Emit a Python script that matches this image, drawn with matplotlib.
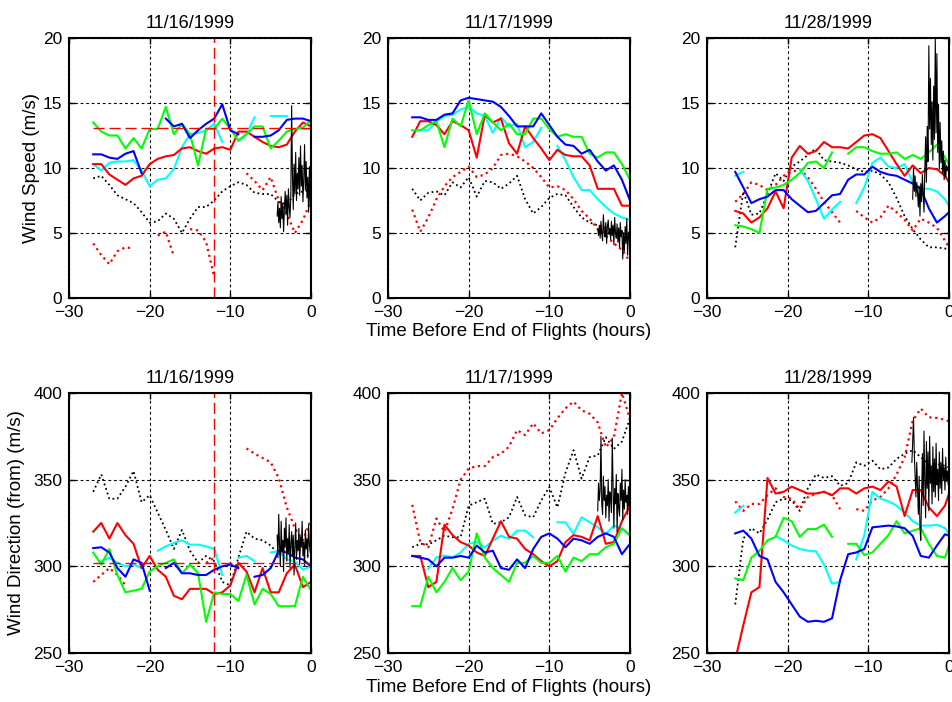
import numpy as np
import matplotlib
matplotlib.use('Agg')
import matplotlib.pyplot as plt

plt.rcParams['font.family'] = ['Liberation Sans', 'DejaVu Sans']
nan = np.nan

# Hours before end of flights
hrs_1116 = np.arange(-27, 1)
hrs_1117 = np.arange(-27, 1)
hrs_1128 = np.append(np.arange(-26.5, 0), 0)

# ---------- wind speed (m/s) ----------
spd16_red = [10.3, 10.3, 9.5, 9.1, 8.7, 9.2, 9.4, 10.3, 10.7, 10.9, 11.0, 11.5, 11.6, 11.3,
             11.1, 11.5, 11.6, 11.4, 12.8, 12.8, 12.4, 12.0, 11.7, 11.6, 11.8, 12.8, 13.5, 13.2]
spd16_blue = [11.05, 11.05, 10.8, 10.7, 11.1, 11.3, 9.6, nan, nan, 13.8, 13.2, 13.4, 12.3, 12.9,
              13.4, 13.8, 14.9, 12.9, 12.6, nan, 12.4, 12.4, 12.5, 12.9, 13.7, 13.8, 13.8, 13.6]
spd16_green = [13.5, 12.8, 12.5, 12.5, 11.5, 12.3, 11.5, 13.0, 13.0, 14.7, 12.6, 13.4, 12.6, 10.2,
               13.0, 13.0, 13.8, 13.0, 12.1, 12.6, 13.2, 13.2, 11.5, 12.1, 12.8, 13.0, 13.1, 13.7]
spd16_cyan = [10.3, 9.8, 10.4, 10.5, 10.5, 10.6, 9.8, 8.6, 9.1, 9.2, 9.9, 11.6, 12.6, 12.7,
              12.9, 13.4, 12.0, nan, 12.1, 12.6, 13.9, nan, 14.0, 14.0, 14.0, nan, 13.0, 13.0]
spd16_red_dot = [4.2, 3.3, 2.6, 3.6, 3.9, 3.8, nan, nan, 4.8, 5.1, 3.2, nan, 5.3, 5.2,
                 4.3, 1.6, nan, nan, nan, 9.6, 9.0, 8.3, 9.3, 7.5, 6.5, 5.0, 6.0, 7.5]
spd16_black_dot = [9.2, 9.4, 8.7, 7.9, 7.6, 7.3, 6.6, 5.8, 5.9, 6.5, 6.1, 5.0, 6.1, 7.0,
                   7.0, 7.5, 8.2, 8.6, 8.9, 8.7, 8.1, 8.0, 8.0, 7.4, 7.2, 8.0, 8.2, 8.3]
spd16_fast = [6.3, 7.4, 5.8, 6.9, 5.4, 7.8, 6.1, 7.3, 5.1, 6.8, 8.2, 6.4, 7.9, 5.6, 8.4,
              7.0, 6.2, 8.0, 14.8, 9.5, 6.8, 10.3, 8.0, 11.2, 7.5, 9.6, 8.4, 10.8, 7.9, 11.7,
              8.6, 10.2, 7.4, 9.1, 11.8, 8.3, 10.5, 7.7, 9.3, 6.6, 10.1, 7.2, 6.5]

spd17_red = [12.4, 13.6, 13.6, 13.3, 12.6, 13.6, 13.3, 12.9, 10.8, 14.1, 13.5, 13.8, 11.9, 11.1,
             13.2, 12.3, 11.5, 10.6, 11.4, 11.0, 10.9, 10.9, 10.2, 8.4, 8.4, 8.4, 7.1, 7.1]
spd17_blue = [13.9, 13.9, 13.7, 13.7, 14.1, 14.2, 15.2, 15.4, 15.3, 15.2, 15.1, 14.7, 14.0, 13.2,
              13.2, 13.2, 14.2, 13.3, 12.4, 11.8, 11.7, 11.1, 11.4, 10.5, 9.8, 10.2, 9.1, 7.5]
spd17_green = [12.9, 12.9, 13.3, 13.6, 11.6, 13.8, 13.2, 15.2, 12.6, 14.2, 13.5, 12.9, 13.4, 12.6,
               12.6, 13.8, 13.8, 13.0, 12.4, 12.6, 12.4, 12.4, 11.1, 10.8, 11.2, 11.2, 10.3, 9.1]
spd17_cyan = [nan, 12.9, 12.9, 13.6, 14.0, 14.1, 14.5, 14.7, 14.2, 14.0, 12.7, 13.9, 13.2, 13.4,
              11.6, 12.0, 13.1, nan, 11.7, 10.6, 9.3, 8.3, 8.3, 7.6, 7.0, 6.5, 6.2, 6.0]
spd17_red_dot = [6.8, 5.1, 6.2, 7.6, 8.6, 9.3, 9.7, 10.1, 9.3, 9.5, 10.0, 11.0, 11.1, 10.9,
                 10.5, 10.0, 9.3, 8.5, 8.6, 8.3, 7.6, 6.7, 6.1, 5.3, 4.8, 4.2, 3.7, 2.8]
spd17_black_dot = [8.4, 7.5, 8.1, 8.2, 7.9, 8.9, 8.5, 9.3, 7.8, 9.0, 8.9, 8.4, 8.8, 9.4,
                   7.6, 6.5, 7.0, 7.7, 8.0, 7.9, 7.0, 6.2, 5.8, 5.6, 5.4, 5.2, 5.0, 4.9]
spd17_fast = [5.3, 4.8, 5.6, 4.6, 5.9, 5.0, 4.4, 6.4, 5.1, 4.7, 5.8, 4.2, 5.5, 6.0, 4.9,
              5.3, 4.5, 5.9, 4.8, 5.6, 4.1, 6.2, 5.0, 4.6, 5.7, 4.3, 5.4, 3.9, 5.8, 4.7,
              5.2, 3.0, 4.9, 3.6, 5.5, 4.2, 6.1, 3.3, 4.8, 5.1, 2.8]

spd28_red = [6.7, 6.5, 5.8, 6.2, 6.9, 8.2, 6.9, 10.8, 11.7, 11.1, 11.3, 12.0, 11.6, 11.6,
             11.5, 12.0, 12.5, 12.6, 12.3, 11.3, 10.3, 9.4, 10.2, 9.6, 10.0, 9.9, 9.4, 8.9]
spd28_blue = [9.7, 8.5, 7.3, 7.6, 7.8, 8.3, 8.3, 7.6, 7.1, 6.6, 6.7, 7.3, 7.9, 8.0,
              9.1, 9.5, 9.5, 10.1, 9.7, 9.5, 9.4, 9.1, 8.8, 8.4, 6.9, 5.8, 6.3, 6.6]
spd28_green = [5.6, 5.5, 5.3, 5.0, 8.4, 8.5, 8.7, 9.1, 9.6, 10.4, 10.5, 10.0, 11.2, nan,
               11.1, 11.6, 11.6, 11.3, 11.1, 11.1, 11.2, 10.7, 11.0, 10.7, 11.2, 11.8, 10.8, 10.3]
spd28_cyan = [9.4, 9.7, nan, nan, nan, nan, nan, nan, 9.9, 9.0, 7.6, 6.1, 6.8, 7.4,
              nan, 7.3, 8.5, 10.4, 10.8, 10.1, 10.0, 10.3, 8.9, 8.4, 8.4, 8.2, 7.6, 7.1]
spd28_red_dot = [7.4, 8.0, 8.9, 8.7, 8.3, 8.7, 9.4, 9.7, 9.9, 9.3, 8.4, 7.4, 6.6, 5.8,
                 nan, 6.7, 6.2, 5.8, 6.2, 7.1, 6.6, 6.0, 5.2, 6.1, 5.8, 5.4, 4.4, 3.9]
spd28_black_dot = [3.9, 8.2, 6.4, 6.5, 8.0, 9.6, 9.0, 10.1, 10.5, 11.0, 11.5, 10.6, 10.5, 10.4,
                   10.2, 9.9, 9.7, 9.8, 9.5, 8.9, 7.7, 6.3, 5.3, 4.5, 3.9, 3.9, 3.8, 3.8]
spd28_fast = [7.6, 10.0, 8.2, 9.4, 7.8, 8.9, 8.1, 7.0, 8.6, 6.3, 8.8, 7.4, 9.5, 8.1, 6.6,
              9.8, 12.4, 8.9, 13.2, 10.5, 19.4, 13.0, 16.9, 11.8, 15.1, 10.6, 16.3, 12.2,
              20.0, 12.7, 18.8, 11.2, 14.9, 9.9, 13.5, 10.4, 12.1, 9.6, 11.3, 9.1, 10.6,
              9.3, 10.2, 9.8, 10.1, 9.6]

# ---------- wind direction (from) ----------
dir16_red = [320, 325, 316, 325, 318, 313, 299, 306, 298, 294, 283, 281, 287, 287,
             287, 284, 285, 289, 302, 297, 285, 299, 285, 285, 296, 301, 288, 291]
dir16_blue = [310.5, 311, 308, 299, 294, 304, 302, 286, nan, 299, 302, 296, 296, 295,
              295, 298, 300, 301, 299, nan, 294, 295, 299, 309, 308, 305, 304, 300]
dir16_green = [308, 301, 310, 295, 285, 286, 287, 297, 300, 302, 304, 296, 301, 296,
               268, 285, 284, 284, 280, 295, 278, 287, 284, 277, 277, 277, 294, 286]
dir16_cyan = [nan, 303, 305, 302, 300, 301, 299, nan, 309, 311.5, 313.5, 315, 312.5, 312.5,
              311.5, 310, 295, nan, 305, 306, 303, nan, 308, 308.7, 304, 303, 298, 300]
dir16_red_dot = [291, 295, 299, 295, 289, nan, nan, nan, nan, nan, nan, nan, nan, nan,
                 302, 305, nan, nan, nan, 368, 365, 362.5, 360, 351, 334, 322, 315, 327]
dir16_black_dot = [343, 353, 339, 339, 346, 355, 337, 341, 331, 321, 310, 321, 309, 302,
                   306, 303, 291, 289, 305, 320, 316, 315, 312, 307, 309, 312, 308, 305]
dir16_fast = [318, 305, 330, 312, 300, 326, 309, 315, 297, 322, 311, 328, 303, 316, 308,
              324, 299, 313, 320, 306, 318, 295, 312, 325, 304, 315, 309, 322, 301, 317,
              311, 326, 306, 314, 300, 321, 310, 316, 305, 324, 313, 308, 311]

dir17_red = [306, 306, 288, 291, 324, 318, 314, 312, 308, 306, 316, 326, 317, 316,
             310, 307, 303, 300, 303, 314, 318, 317, 315, 329, 313, 314, 326, 335]
dir17_blue = [306, 305, 304, 300, 305, 305, 306, 305, 312, 308, 309, 299, 298, 304,
              299, 310, 317, 319, 316, 311, 316, 315, 313, 317, 319, 317, 307, 313]
dir17_green = [277, 277, 294, 285, 291, 299, 292, 297, 319, 305, 299, 295, 291, 302,
               302, 306, 302, 302, 306, 297, 305, 303, 307, 307, 311, 313, 322, 318]
dir17_cyan = [nan, nan, 298.5, 305.2, 306.2, 305.2, 308, 313, 314, 311, 314.8, 317.7, 315.8, 320.6,
              320.6, 316.8, nan, nan, 325.4, 325.4, 318.7, 328.3, 325.4, 322.5, 318.7, 323.5, 321.6, 317.7]
dir17_red_dot = [335.5, 314, 311, 327.6, 320, 333, 350, 356.4, 357.8, 357.8, 363, 365, 369, 378.6,
                 375.7, 382.5, 376.7, 378.6, 385.4, 391.2, 395, 390, 388, 383, 368.7, 374.5, 400, 385]
dir17_black_dot = [311, 313, 312.6, 315, 317.7, 316.8, 316.8, 335, 337, 339, 324.5, 325.4, 328.3, 340,
                   329.4, 328.3, 338, 345.8, 334, 354, 367, 350.6, 363, 364, 374.5, 367.8, 372, 385.5]
dir17_fast = [332, 348, 338, 344, 375, 336, 330, 352, 338, 346, 328, 341, 335, 350, 326,
              343, 339, 331, 374, 347, 322, 345, 336, 353, 320, 342, 334, 329, 348, 338,
              356, 327, 344, 333, 350, 337, 341, 330, 346, 335, 338]

dir28_red = [246, 266, 285, 288, 351, 342, 343, 346, 344, 342, 342, 343, 341, 345,
             345, 342, 345, 346, 344, 349, 346, 329, 344, 344, 334, 329, 335, 342]
dir28_blue = [319, 320.6, 316, 306, 304, 291, 285, 278, 271, 268, 268.6, 268, 270, 292,
              307, 308, 310, 322.5, 323, 323.5, 323, 322, 317.5, 306, 305, 312, 318.5, 317.7]
dir28_green = [293, 292, 305, 309, 315, 317, 328, 326, 317, 321.5, 321.5, 324, 317, nan,
               313, 313, 306.5, 308, 313, 318, 326, 319, 320.5, 322, 313, 306, 305, 312]
dir28_cyan = [331, 335, nan, nan, nan, 317.5, 315, 312, 310, 309, 308.7, 301, 290, 291,
              nan, 304, 318, 343, 339, 337.5, 335, 331, 326, 323.5, 323.5, 324, 322, 318.6]
dir28_red_dot = [337.5, 332, 336, 336, 341, 345, 340, 339, 333, 340, 342, 343, 341, 333,
                 nan, 333, 332, 338, 340, 345, 353, 363, 384, 391, 386, 385.6, 384.5, 383.7]
dir28_black_dot = [278, 316, 322, 319, 327, 337, 339, 338, 332, 345, 353, 351, 352, 346.5,
                   348, 360, 358, 361, 356, 357, 362, 365, 367, 363, 359, 359, 358, 357]
dir28_fast = [360, 372, 386, 365, 352, 340, 360, 345, 330, 352, 322, 315, 340, 365, 335,
              378, 350, 328, 372, 345, 366, 332, 375, 348, 358, 336, 369, 343, 362, 340,
              371, 347, 356, 338, 366, 345, 360, 342, 368, 350, 357, 344, 363, 349, 355,
              347, 352]

# times of the high-rate (last hours) black trace
fast_t16 = np.linspace(-4.2, 0, len(spd16_fast))
fast_t17 = np.linspace(-4.0, 0, len(spd17_fast))
fast_t28 = np.linspace(-4.5, 0, len(spd28_fast))
fast_t16d = np.linspace(-4.2, 0, len(dir16_fast))
fast_t17d = np.linspace(-4.0, 0, len(dir17_fast))
fast_t28d = np.linspace(-4.6, 0, len(dir28_fast))

# reference markers for 11/16
ref_spd_1116 = 13.1
ref_dir_1116 = 302
mark_hr_1116 = -12

titles = ['11/16/1999', '11/17/1999', '11/28/1999']

RED, BLUE, GREEN, CYAN = '#ff0000', '#0000ff', '#00ff00', '#00ffff'


def draw(ax, t, red, blue, green, cyan, red_dot, black_dot, ft, fast):
    ax.plot(t, black_dot, color='k', ls=':', lw=1.3)
    ax.plot(t, red_dot, color=RED, ls=':', lw=1.6)
    ax.plot(t, cyan, color=CYAN, lw=1.5)
    ax.plot(t, red, color=RED, lw=1.5)
    ax.plot(t, green, color=GREEN, lw=1.5)
    ax.plot(t, blue, color=BLUE, lw=1.5)
    ax.plot(ft, fast, color='k', lw=0.8)


fig = plt.figure(figsize=(9.52, 7.02), dpi=100)
W, H = 952, 702
lefts = [69, 388, 707]
tops = [38, 393]
aw, ah = 242, 260

panels = [
    (hrs_1116, spd16_red, spd16_blue, spd16_green, spd16_cyan, spd16_red_dot, spd16_black_dot, fast_t16, spd16_fast),
    (hrs_1117, spd17_red, spd17_blue, spd17_green, spd17_cyan, spd17_red_dot, spd17_black_dot, fast_t17, spd17_fast),
    (hrs_1128, spd28_red, spd28_blue, spd28_green, spd28_cyan, spd28_red_dot, spd28_black_dot, fast_t28, spd28_fast),
    (hrs_1116, dir16_red, dir16_blue, dir16_green, dir16_cyan, dir16_red_dot, dir16_black_dot, fast_t16d, dir16_fast),
    (hrs_1117, dir17_red, dir17_blue, dir17_green, dir17_cyan, dir17_red_dot, dir17_black_dot, fast_t17d, dir17_fast),
    (hrs_1128, dir28_red, dir28_blue, dir28_green, dir28_cyan, dir28_red_dot, dir28_black_dot, fast_t28d, dir28_fast),
]

for k, p in enumerate(panels):
    row, col = divmod(k, 3)
    ax = fig.add_axes([lefts[col] / W, (H - tops[row] - ah) / H, aw / W, ah / H])
    draw(ax, *p)
    ax.set_xlim(-30, 0)
    ax.set_xticks([-30, -20, -10, 0])
    if row == 0:
        ax.set_ylim(0, 20)
        ax.set_yticks([0, 5, 10, 15, 20])
    else:
        ax.set_ylim(250, 400)
        ax.set_yticks([250, 300, 350, 400])
    if col == 0:
        ref = ref_spd_1116 if row == 0 else ref_dir_1116
        ax.hlines(ref, hrs_1116[0], hrs_1116[-1], color=RED, lw=1.0, linestyles=(0, (8, 3.5)))
        ax.axvline(mark_hr_1116, color=RED, lw=1.0, ls=(0, (8, 3.5)))
    ax.grid(True, color='k', ls=(0, (2.5, 2.5)), lw=0.8)
    ax.set_axisbelow(True)
    for s in ax.spines.values():
        s.set_linewidth(1.5)
    ax.tick_params(direction='in', top=True, right=True, length=4, width=1,
                   labelsize=12.5, pad=5)
    ax.set_title(titles[col], fontsize=13, pad=7)
    if col == 0:
        ax.set_ylabel('Wind Speed (m/s)' if row == 0 else 'Wind Direction (from) (m/s)', fontsize=13.5)
        ax.yaxis.set_label_coords((32 - 69) / aw if row == 0 else (17 - 69) / aw, 0.5)
        ax.yaxis.label.set_va('center')
    if col == 1:
        ax.set_xlabel('Time Before End of Flights (hours)', fontsize=13.5)
        ax.xaxis.set_label_coords(0.5, -34 / ah)
        ax.xaxis.label.set_va('center')

fig.savefig('out.png', dpi=100)
